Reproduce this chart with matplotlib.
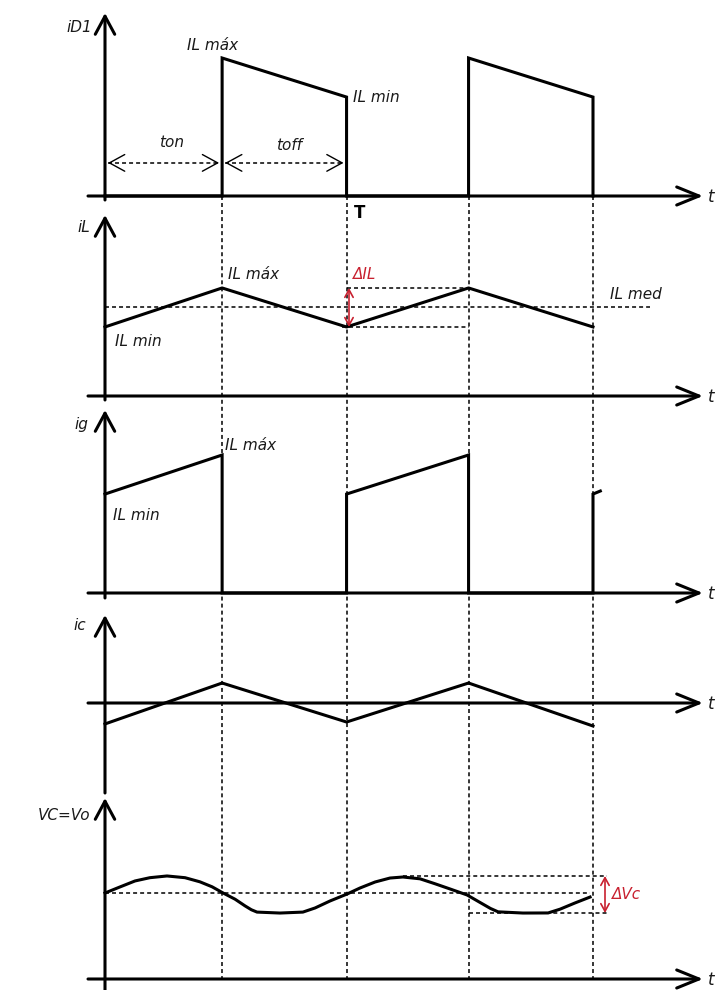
import matplotlib
matplotlib.use("Agg")
import matplotlib.pyplot as plt

# ---------------- waveform data (time in units of the period T) ----------------
T_EDGES = [0.0, 0.48, 0.99, 1.49, 2.0]   # switching instants (ton, T, T+ton, 2T)

IL_MAX = 1.0
IL_MIN = 0.717
IL_MED = 0.8585

# diode current iD1
ID1_T = [0.0, 0.48, 0.48, 0.99, 0.99, 1.49, 1.49, 2.0, 2.0]
ID1_V = [0.0, 0.0, IL_MAX, IL_MIN, 0.0, 0.0, IL_MAX, IL_MIN, 0.0]

# inductor current iL
IL_T = [0.0, 0.48, 0.99, 1.49, 2.0]
IL_V = [IL_MIN, IL_MAX, IL_MIN, IL_MAX, IL_MIN]

# source current ig
IG_T = [0.0, 0.48, 0.48, 0.99, 0.99, 1.49, 1.49, 2.0, 2.0, 2.03]
IG_V = [IL_MIN, IL_MAX, 0.0, 0.0, IL_MIN, IL_MAX, 0.0, 0.0, IL_MIN, 0.739]

# capacitor current ic
IC_T = [0.0, 0.48, 0.99, 1.49, 2.0]
IC_V = [-0.152, 0.145, -0.138, 0.145, -0.167]

# capacitor / output voltage
VC_T = [0.0, 0.061, 0.123, 0.184, 0.254, 0.328, 0.389, 0.439, 0.484, 0.533,
        0.574, 0.600, 0.623, 0.717, 0.811, 0.861, 0.922, 0.992, 1.045, 1.107,
        1.168, 1.221, 1.291, 1.352, 1.414, 1.484, 1.537, 1.580, 1.611, 1.713,
        1.816, 1.865, 1.926, 1.988]
VC_V = [1.000, 1.070, 1.140, 1.178, 1.198, 1.178, 1.130, 1.072, 1.000, 0.928,
        0.850, 0.805, 0.778, 0.767, 0.778, 0.826, 0.907, 0.988, 1.058, 1.128,
        1.174, 1.186, 1.165, 1.108, 1.047, 0.977, 0.890, 0.820, 0.781, 0.767,
        0.768, 0.812, 0.884, 0.953]
VC_MEAN = 1.0

# ---------------- layout ----------------
W_PX, H_PX, DPI = 716, 990, 100
X0_PX, PX_PER_T = 105, 244.0
XLIM = (-X0_PX / PX_PER_T, (W_PX - X0_PX) / PX_PER_T)
AX_LEFT_T = (88 - X0_PX) / PX_PER_T
AX_RIGHT_T = (703 - X0_PX) / PX_PER_T

# panel rows in pixels: top, bottom, baseline, value at baseline, px per unit
PANELS = [
    dict(top=13, bottom=200, base=196, base_val=0.0, ppu=138.0, label="iD1", loff=(-13, -14)),
    dict(top=215, bottom=400, base=396, base_val=0.216, ppu=137.8, label="iL", loff=(-15, -13)),
    dict(top=410, bottom=598, base=593, base_val=0.0, ppu=138.0, label="ig", loff=(-17, -15)),
    dict(top=615, bottom=793, base=703, base_val=0.0, ppu=137.8, label="ic", loff=(-19, -10)),
    dict(top=798, bottom=990, base=979, base_val=0.0, ppu=86.0, label="VC=Vo", loff=(-15, -17)),
]

INK = "black"
RED = "#c8202f"
LW = 2.2
DASH = (0, (2.6, 2.0))
FONT = dict(family="DejaVu Sans", style="italic", fontsize=11, color="#1a1a1a")

fig = plt.figure(figsize=(W_PX / DPI, H_PX / DPI), dpi=DPI)
fig.patch.set_facecolor("white")

# background axes in pixel rows for the time guides
bg = fig.add_axes([0, 0, 1, 1], zorder=0)
bg.set_xlim(*XLIM)
bg.set_ylim(H_PX, 0)
bg.axis("off")
for t in T_EDGES[1:]:
    bg.plot([t, t], [PANELS[0]["base"], PANELS[-1]["base"]], color=INK, lw=1.1,
            linestyle=DASH)


def head(ax, tip, tail, lw=LW, hl=1.3, hw=0.7, color=INK):
    ax.annotate("", xy=tip, xytext=tail, annotation_clip=False,
                arrowprops=dict(arrowstyle=f"->,head_length={hl},head_width={hw}",
                                lw=lw, color=color, shrinkA=0, shrinkB=0))


def double_arrow(ax, t, v1, v2, color=RED):
    ax.annotate("", xy=(t, v1), xytext=(t, v2), annotation_clip=False,
                arrowprops=dict(arrowstyle="<->,head_length=0.55,head_width=0.3",
                                lw=1.2, color=color, shrinkA=0, shrinkB=0))


axes = []
for p in PANELS:
    h = p["bottom"] - p["top"]
    ax = fig.add_axes([0, 1 - p["bottom"] / H_PX, 1, h / H_PX], zorder=1)
    ax.patch.set_alpha(0)
    ax.set_xlim(*XLIM)
    y_lo = p["base_val"] - (p["bottom"] - p["base"]) / p["ppu"]
    y_hi = p["base_val"] + (p["base"] - p["top"]) / p["ppu"]
    ax.set_ylim(y_lo, y_hi)
    ax.axis("off")
    # axes with open arrow heads
    head(ax, (0, y_hi), (0, y_lo))
    head(ax, (AX_RIGHT_T, p["base_val"]), (AX_LEFT_T, p["base_val"]), hl=1.6, hw=0.65)
    ax.annotate("t", xy=(AX_RIGHT_T, p["base_val"]), xytext=(5, -1),
                textcoords="offset pixels", ha="left", va="center",
                annotation_clip=False, **dict(FONT, fontsize=12))
    ax.annotate(p["label"], xy=(0, y_hi), xytext=p["loff"], textcoords="offset pixels",
                ha="right", va="center", annotation_clip=False, **FONT)
    axes.append(ax)

ax1, ax2, ax3, ax4, ax5 = axes


def lbl(ax, text, xy, off, ha="left", **kw):
    style = dict(FONT)
    style.update(kw)
    ax.annotate(text, xy=xy, xytext=off, textcoords="offset pixels", ha=ha,
                va="center", annotation_clip=False, **style)


# ---- iD1 ----
ax1.plot(ID1_T, ID1_V, color=INK, lw=LW, solid_joinstyle="miter")
lbl(ax1, "IL máx", (T_EDGES[1], IL_MAX), (-35, 13))
lbl(ax1, "IL min", (T_EDGES[2], IL_MIN), (6, 0))
SPAN_LEVEL = 0.24
gap = 3 / PX_PER_T
for a, b, name, off in [(T_EDGES[0], T_EDGES[1], "ton", (8, 20)),
                        (T_EDGES[1], T_EDGES[2], "toff", (5, 17))]:
    ax1.plot([a + gap, b - gap], [SPAN_LEVEL, SPAN_LEVEL], color=INK, lw=1.1,
             linestyle=DASH)
    head(ax1, (a + gap, SPAN_LEVEL), (a + 2 * gap, SPAN_LEVEL), lw=1.0, hl=1.1, hw=0.6)
    head(ax1, (b - gap, SPAN_LEVEL), (b - 2 * gap, SPAN_LEVEL), lw=1.0, hl=1.1, hw=0.6)
    lbl(ax1, name, ((a + b) / 2, SPAN_LEVEL), off, ha="center")
ax1.annotate("T", xy=(T_EDGES[2], 0), xytext=(13, -17), textcoords="offset pixels",
             ha="center", va="center", annotation_clip=False, family="DejaVu Sans",
             fontsize=12, fontweight="bold", color=INK)

# ---- iL ----
MED_END_T = (650 - X0_PX) / PX_PER_T
ax2.plot([0, MED_END_T], [IL_MED, IL_MED], color=INK, lw=1.1, linestyle=DASH)
ax2.plot([T_EDGES[2], T_EDGES[3]], [IL_MAX, IL_MAX], color=INK, lw=1.1, linestyle=DASH)
ax2.plot([T_EDGES[2] - 0.02, T_EDGES[3]], [IL_MIN, IL_MIN], color=INK, lw=1.1,
         linestyle=DASH)
ax2.plot(IL_T, IL_V, color=INK, lw=LW)
double_arrow(ax2, T_EDGES[2] + 0.01, IL_MAX, IL_MIN)
lbl(ax2, "IL máx", (T_EDGES[1], IL_MAX), (6, 13))
lbl(ax2, "IL min", (T_EDGES[0], IL_MIN), (10, -15))
lbl(ax2, "ΔIL", (T_EDGES[2], IL_MAX), (6, 13), color=RED)
lbl(ax2, "IL med", (MED_END_T, IL_MED), (-40, 13))

# ---- ig ----
ax3.plot(IG_T, IG_V, color=INK, lw=LW, solid_joinstyle="miter")
lbl(ax3, "IL máx", (T_EDGES[1], IL_MAX), (3, 9))
lbl(ax3, "IL min", (T_EDGES[0], IL_MIN), (8, -21))

# ---- ic ----
ax4.plot(IC_T, IC_V, color=INK, lw=LW)

# ---- VC ----
vmax, vmin = max(VC_V), min(VC_V)
i_peak2 = VC_V.index(max(VC_V[len(VC_V) // 2:]))
DV_T = (605 - X0_PX) / PX_PER_T
ax5.plot([0, VC_T[-1]], [VC_MEAN, VC_MEAN], color=INK, lw=1.1, linestyle=DASH)
ax5.plot([VC_T[i_peak2], DV_T + 0.01], [vmax, vmax], color=INK, lw=1.1, linestyle=DASH)
ax5.plot([T_EDGES[3], DV_T + 0.01], [vmin, vmin], color=INK, lw=1.1, linestyle=DASH)
ax5.plot(VC_T, VC_V, color=INK, lw=LW)
double_arrow(ax5, DV_T, vmax, vmin)
lbl(ax5, "ΔVc", (DV_T, (vmax + vmin) / 2), (7, 0), color=RED)

fig.savefig("out.png", dpi=DPI, facecolor="white")
